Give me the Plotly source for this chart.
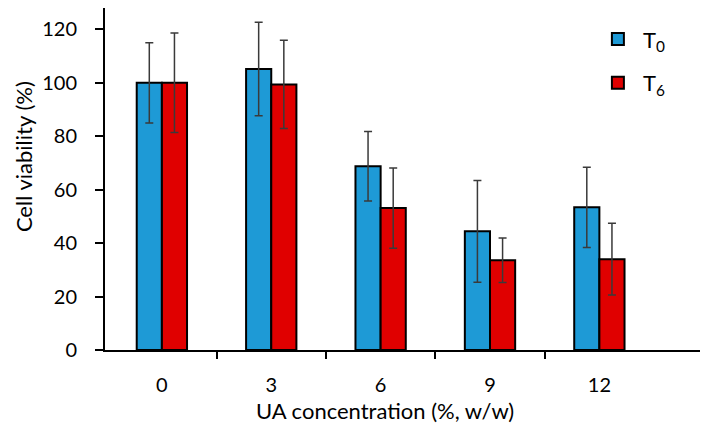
import plotly.graph_objects as go

categories = ["0", "3", "6", "9", "12"]
t0_values = [100.0, 105.2, 68.8, 44.4, 53.4]
t0_errors = [15.0, 17.5, 13.0, 19.0, 15.0]
t6_values = [100.0, 99.4, 53.1, 33.6, 34.0]
t6_errors = [18.6, 16.5, 15.0, 8.3, 13.4]
y_ticks = [0, 20, 40, 60, 80, 100, 120]
x_title = "UA concentration (%, w/w)"
y_title = "Cell viability (%)"

FONT = "Lato"
FS = 20
x_pos = list(range(len(categories)))
boundaries = [i + 0.5 for i in range(len(categories) - 1)]

fig = go.Figure()
fig.add_trace(go.Bar(
    x=x_pos, y=t0_values, name="T<sub>0</sub>", legendgroup="a",
    marker=dict(color="#1E9AD6", line=dict(color="black", width=2)),
    error_y=dict(type="data", array=t0_errors, color="#3a3a3a", thickness=1.5, width=4),
))
fig.add_trace(go.Bar(
    x=x_pos, y=t6_values, name="T<sub>6</sub>", legendgroup="b",
    marker=dict(color="#E00000", line=dict(color="black", width=2)),
    error_y=dict(type="data", array=t6_errors, color="#3a3a3a", thickness=1.5, width=4),
))
# invisible trace carrying the boundary-tick overlay axis
fig.add_trace(go.Scatter(x=x_pos, y=[0]*len(x_pos), xaxis="x2", mode="markers",
                         marker=dict(opacity=0), showlegend=False, hoverinfo="skip"))

xr = [-0.52, 4.92]
fig.update_layout(
    width=708, height=432,
    margin=dict(l=97, r=16, t=0, b=90),
    paper_bgcolor="white", plot_bgcolor="white",
    barmode="group", bargap=0.54, bargroupgap=0,
    font=dict(family=FONT, size=FS, color="black"),
    xaxis=dict(range=xr, tickmode="array", tickvals=x_pos, ticktext=categories,
               ticks="", ticklabelstandoff=16, tickfont=dict(size=FS),
               showline=True, linecolor="black", linewidth=2, mirror=True,
               showgrid=False, zeroline=False, automargin=False),
    xaxis2=dict(range=xr, overlaying="x", side="bottom", tickmode="array",
                tickvals=boundaries, showticklabels=False, ticks="outside", ticklen=8,
                tickwidth=1.5, tickcolor="black", showline=False,
                showgrid=False, zeroline=False, automargin=False),
    yaxis=dict(range=[0, 128], tickmode="array", tickvals=y_ticks,
               ticks="outside", ticklen=8, tickwidth=1.5, tickcolor="black",
               ticklabelstandoff=14,
               showline=True, linecolor="black", linewidth=2, mirror=True,
               showgrid=False, zeroline=False, tickfont=dict(size=FS), automargin=False),
    legend=dict(x=0.82, y=0.97, xanchor="left", yanchor="top", bgcolor="rgba(0,0,0,0)",
                font=dict(size=22), tracegroupgap=12, itemwidth=40),
    annotations=[
        dict(text=x_title, xref="paper", yref="paper", x=0.47, y=-0.176,
             xanchor="center", yanchor="middle", showarrow=False, font=dict(size=22)),
        dict(text=y_title, xref="paper", yref="paper", x=-0.1378, y=0.564,
             xanchor="center", yanchor="middle", showarrow=False, textangle=-90,
             font=dict(size=22)),
    ],
)
fig.write_html("out.html")
